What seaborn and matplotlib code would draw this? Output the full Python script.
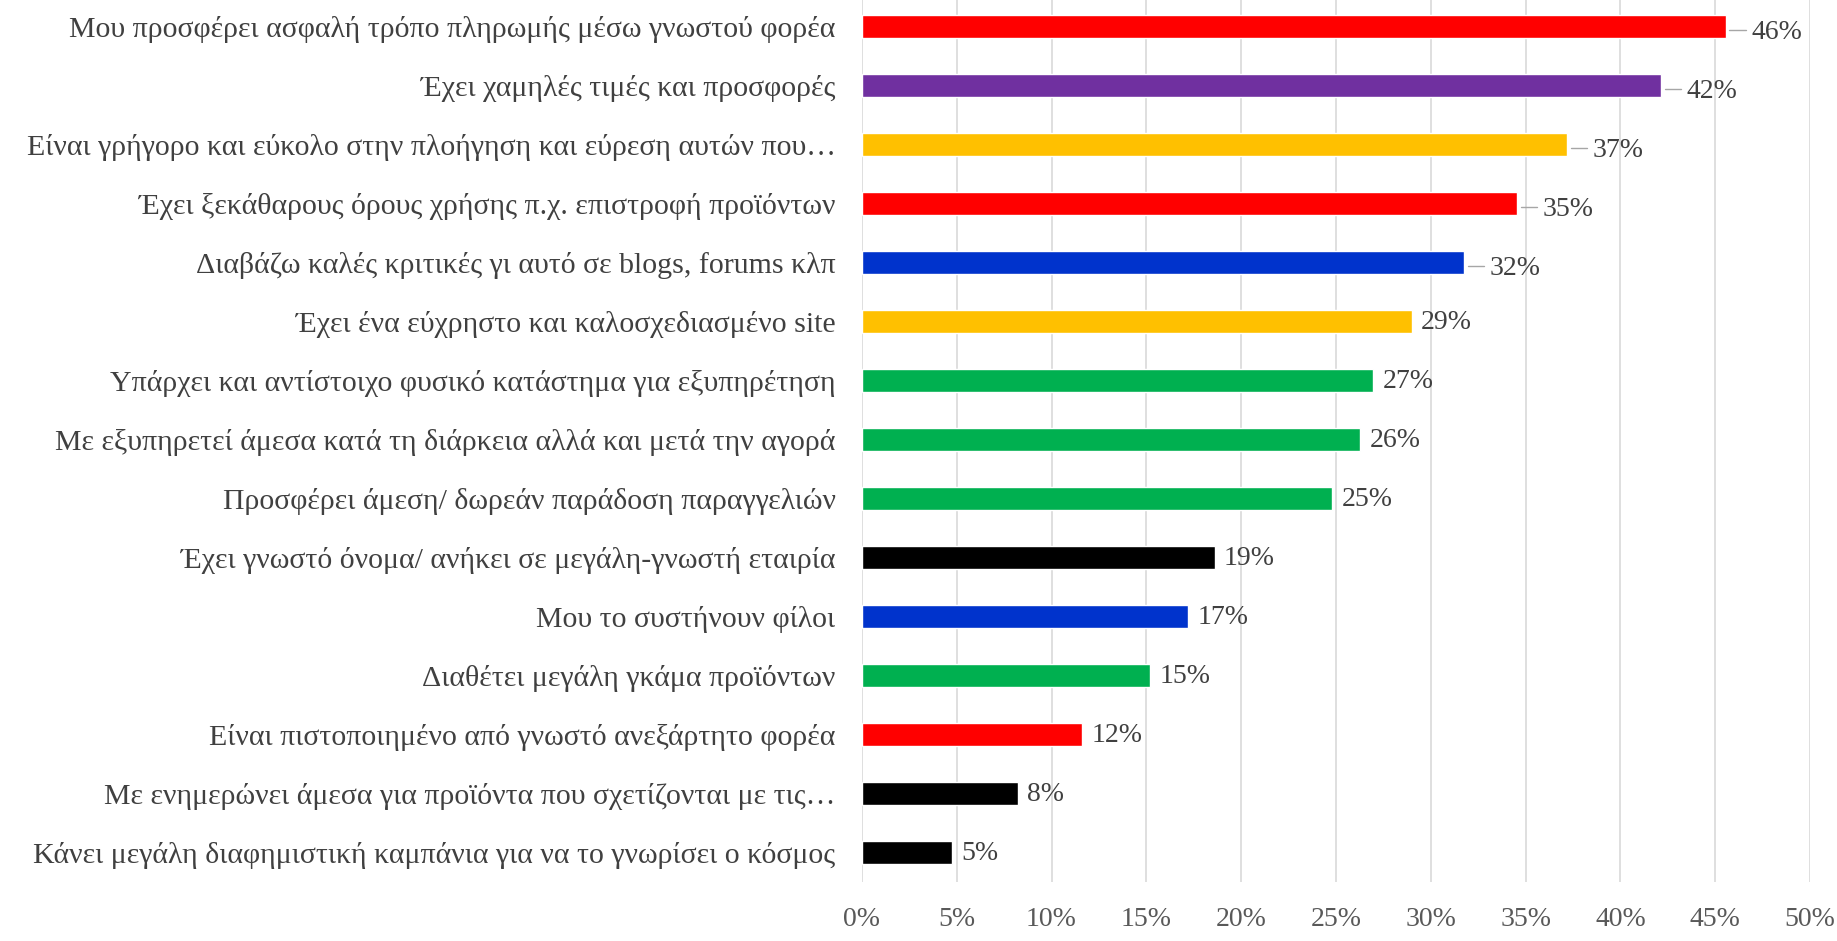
import matplotlib
matplotlib.use('Agg')
import matplotlib.pyplot as plt
import seaborn as sns
import pandas as pd

# Reasons for choosing an e-shop (share of respondents)
reasons = [
    'Μου προσφέρει ασφαλή τρόπο πληρωμής μέσω γνωστού φορέα',
    'Έχει χαμηλές τιμές και προσφορές',
    'Είναι γρήγορο και εύκολο στην πλοήγηση και εύρεση αυτών που…',
    'Έχει ξεκάθαρους όρους χρήσης π.χ. επιστροφή προϊόντων',
    'Διαβάζω καλές κριτικές γι αυτό σε blogs, forums κλπ',
    'Έχει ένα εύχρηστο και καλοσχεδιασμένο site',
    'Υπάρχει και αντίστοιχο φυσικό κατάστημα για εξυπηρέτηση',
    'Με εξυπηρετεί άμεσα κατά τη διάρκεια αλλά και μετά την αγορά',
    'Προσφέρει άμεση/ δωρεάν παράδοση παραγγελιών',
    'Έχει γνωστό όνομα/ ανήκει σε μεγάλη-γνωστή εταιρία',
    'Μου το συστήνουν φίλοι',
    'Διαθέτει μεγάλη γκάμα προϊόντων',
    'Είναι πιστοποιημένο από γνωστό ανεξάρτητο φορέα',
    'Με ενημερώνει άμεσα για προϊόντα που σχετίζονται με τις…',
    'Κάνει μεγάλη διαφημιστική καμπάνια για να το γνωρίσει ο κόσμος',
]
shares = [0.4555, 0.4215, 0.372, 0.3455, 0.3177, 0.2899, 0.2695, 0.2627,
          0.2478, 0.186, 0.1718, 0.152, 0.1162, 0.0822, 0.0476]
bar_colors = ['#FF0000', '#7030A0', '#FFC000', '#FF0000', '#0033CC',
              '#FFC000', '#00B050', '#00B050', '#00B050', '#000000',
              '#0033CC', '#00B050', '#FF0000', '#000000', '#000000']
x_ticks = [0, 0.05, 0.10, 0.15, 0.20, 0.25, 0.30, 0.35, 0.40, 0.45, 0.50]

df = pd.DataFrame({'reason': reasons, 'share': shares})

sns.set_style('white')
plt.rcParams['font.family'] = ['Liberation Serif', 'DejaVu Serif']

fig = plt.figure(figsize=(18.37, 9.41), dpi=100)
ax = fig.add_axes([0.4692, 0.0627, 0.5161, 0.9403])

sns.barplot(data=df, y='reason', x='share', hue='reason',
            palette=bar_colors, legend=False, width=0.39,
            saturation=1, ax=ax)

ax.set_xlim(0, 0.5)
ax.set_ylim(14.5, -0.5)
ax.set_xticks(x_ticks)
ax.set_xticklabels([f'{int(round(t * 100))}%' for t in x_ticks])
ax.xaxis.grid(True, color='#D9D9D9', linewidth=1.2)
ax.set_axisbelow(True)
for s in ax.spines.values():
    s.set_visible(False)
ax.tick_params(axis='x', length=0, pad=18, labelsize=20, labelcolor='#595959')
ax.tick_params(axis='y', length=0, pad=19, labelsize=21.5, labelcolor='#404040')
ax.set_xlabel('')
ax.set_ylabel('')

# value labels, the first five with a small leader line
for i, v in enumerate(shares):
    lbl = f'{round(v * 100):.0f}%'
    if i < 5:
        ax.plot([v + 0.002, v + 0.0105], [i + 0.05, i + 0.05],
                color='#A6A6A6', linewidth=1)
        ax.text(v + 0.0135, i + 0.1, lbl, va='center', ha='left',
                fontsize=20, color='#404040')
    else:
        ax.text(v + 0.005, i + 0.02, lbl, va='center', ha='left',
                fontsize=20, color='#404040')

fig.savefig('out.png', dpi=100)
